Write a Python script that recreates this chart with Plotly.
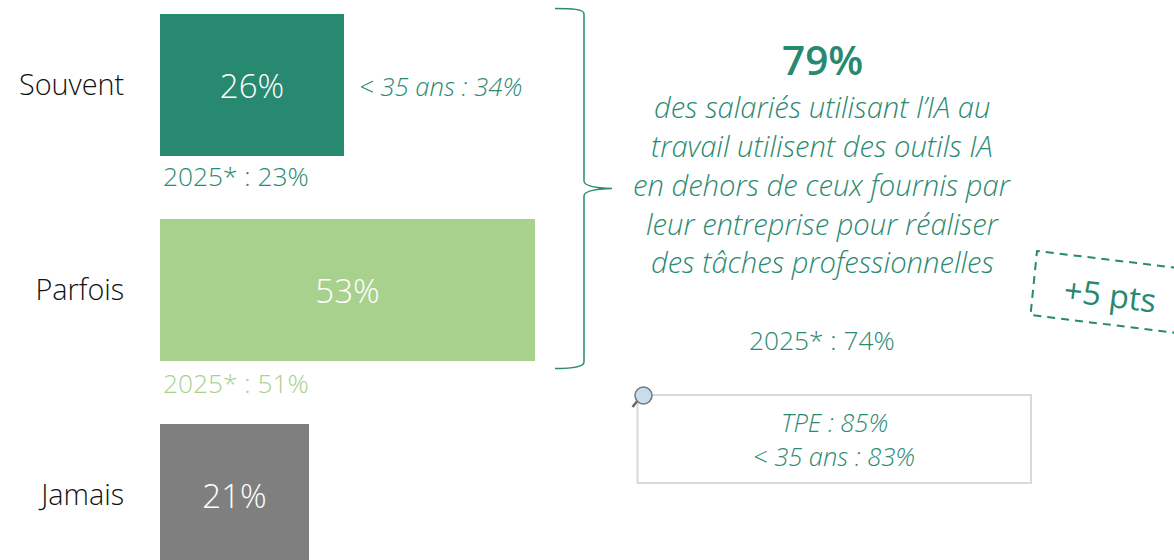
import plotly.graph_objects as go

categories = ["Souvent", "Parfois", "Jamais"]
values = [26, 53, 21]
bar_colors = ["#278970", "#A9D18E", "#7F7F7F"]
prev_labels = ["2025* : 23%", "2025* : 51%"]
young_label = "< 35 ans : 34%"
headline = "79%"
body_lines = ["des salariés utilisant l’IA au", "travail utilisent des outils IA",
              "en dehors de ceux fournis par", "leur entreprise pour réaliser",
              "des tâches professionnelles"]
headline_prev = "2025* : 74%"
delta = "+5 pts"
box_lines = ["TPE : 85%", "< 35 ans : 83%"]

W, H, L = 1174, 560, 160
FONT = "Open Sans"
GREEN = "#2B8A72"
DARK = "#278970"

def X(p): return (p - L) / (W - L)
def Y(p): return 1 - p / H

def txt(x, y, s, size, color=GREEN, italic=False, anchor="center", angle=0, weight=300):
    return dict(x=X(x), y=Y(y), xref="paper", yref="paper", text=s, showarrow=False,
                xanchor=anchor, yanchor="middle", textangle=angle,
                font=dict(family=FONT, size=size, color=color, weight=weight,
                          style="italic" if italic else "normal"))

fig = go.Figure(go.Bar(
    y=categories, x=values, orientation="h", width=142 / 205,
    marker=dict(color=bar_colors, line_width=0),
    text=[f"{v}%" for v in values], textposition="inside", insidetextanchor="middle",
    textangle=0, textfont=dict(family=FONT, size=33, color="white", weight=300),
    hoverinfo="skip"))

ann = [
    txt(160.5, 176, prev_labels[0], 26.3, anchor="left"),
    txt(160.5, 383, prev_labels[1], 26.3, color=bar_colors[1], anchor="left"),
    txt(357, 86, young_label, 25.7, italic=True, anchor="left"),
    txt(822, 60, headline, 40.5, color=DARK, weight=600),
    txt(822, 340, headline_prev, 26.3),
    txt(834, 422, box_lines[0], 25.5, italic=True),
    txt(834, 456, box_lines[1], 25.5, italic=True),
    txt(1110, 294, delta, 32.5, color=DARK, angle=7, weight=400),
]
for i, line in enumerate(body_lines):
    ann.append(txt(822, 107.5 + i * 38.7, line, 29.2, italic=True))

def path(pts):
    return "M " + " L ".join(f"{X(a)},{Y(b)}" for a, b in pts)

brace = (f"M {X(555)},{Y(8.5)} C {X(572)},{Y(8.5)} {X(584)},{Y(9)} {X(584)},{Y(14)} "
         f"L {X(584)},{Y(181)} C {X(584)},{Y(186)} {X(596)},{Y(188)} {X(612)},{Y(188.5)} "
         f"C {X(596)},{Y(189)} {X(584)},{Y(191)} {X(584)},{Y(196)} "
         f"L {X(584)},{Y(362)} C {X(584)},{Y(367)} {X(572)},{Y(368.5)} {X(555)},{Y(368.5)}")

shapes = [
    dict(type="path", xref="paper", yref="paper", path=brace, line=dict(color=GREEN, width=1.5)),
    dict(type="path", xref="paper", yref="paper",
         path=path([(1290, 281.5), (1037, 251), (1030.5, 315), (1283, 346)]),
         line=dict(color=DARK, width=2, dash="8px,6px")),
    dict(type="rect", xref="paper", yref="paper", x0=X(637.5), x1=X(1031), y0=Y(395), y1=Y(483),
         line=dict(color="#D9D9D9", width=2)),
    dict(type="line", xref="paper", yref="paper", x0=X(638), y0=Y(400), x1=X(632.5), y1=Y(407),
         line=dict(color="#6B6B5A", width=2.5)),
    dict(type="circle", xref="paper", yref="paper", x0=X(635), x1=X(652), y0=Y(387), y1=Y(404),
         fillcolor="#C9DCEA", line=dict(color="#6F7880", width=1.5)),
]

fig.update_layout(
    width=W, height=H, margin=dict(l=L, r=0, t=0, b=0, pad=0),
    paper_bgcolor="white", plot_bgcolor="white", showlegend=False,
    annotations=ann, shapes=shapes,
    bargap=0,
    xaxis=dict(range=[0, (W - L) / 7.08], visible=False, showgrid=False, zeroline=False),
    yaxis=dict(categoryorder="array", categoryarray=categories,
               range=[(H - 85) / 205, -85 / 205], showgrid=False, zeroline=False,
               showline=False, ticks="outside", ticklen=29, tickcolor="rgba(0,0,0,0)",
               tickfont=dict(family=FONT, size=28.8, color="#111111", weight=300)),
)
fig.write_html("out.html", config=dict(displayModeBar=False),
               post_script="document.body.style.margin='0';document.body.style.overflow='hidden';")
